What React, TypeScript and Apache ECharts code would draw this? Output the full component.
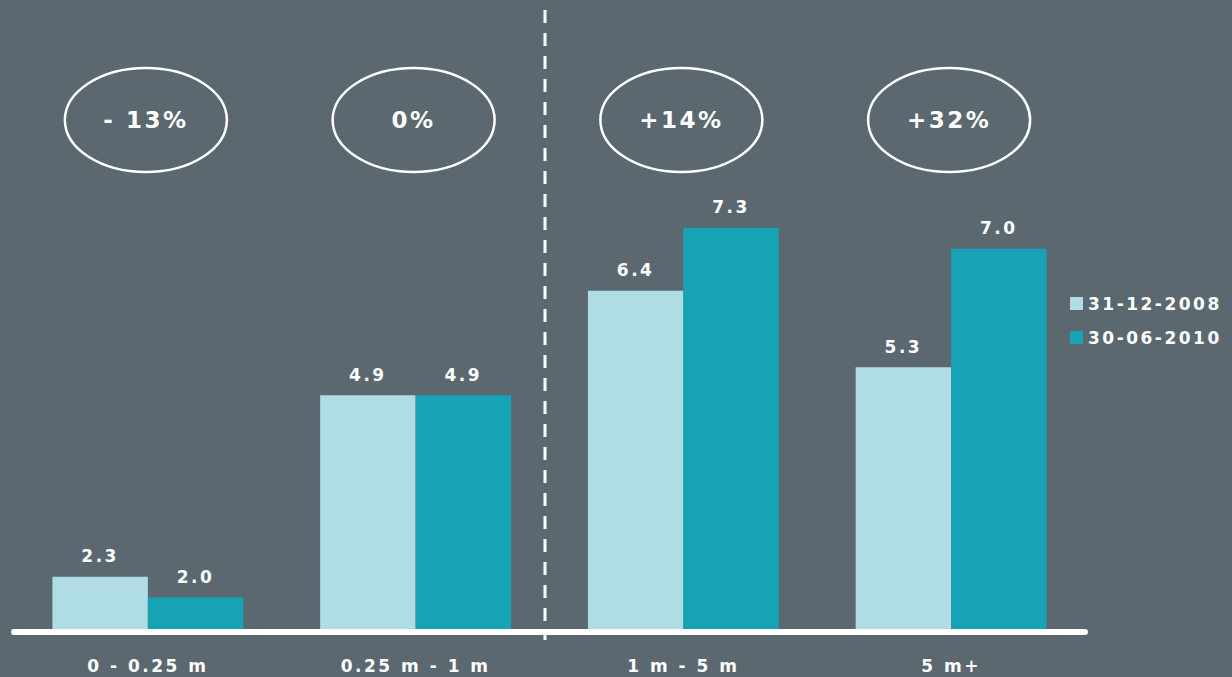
import React, { useEffect, useRef } from "react";
import * as echarts from "echarts";

const categories = ["0 - 0.25 m", "0.25 m - 1 m", "1 m - 5 m", "5 m+"];
const series2008 = [2.3, 4.9, 6.4, 5.3];
const series2010 = [2.0, 4.9, 7.3, 7.0];
const changeLabels = ["- 13%", "0%", "+14%", "+32%"];
const seriesNames = ["31-12-2008", "30-06-2010"];

const BG = "#5b6870";
const LIGHT = "#b0dce3";
const DARK = "#16a3b4";
const FONT = "DejaVu Sans";

export default function App() {
  const ref = useRef<HTMLDivElement>(null);
  useEffect(() => {
    document.body.style.margin = "0";
    const chart = echarts.init(ref.current!, null, { renderer: "svg" });
    const labelStyle = {
      show: true,
      position: "top",
      distance: 12,
      color: "#ffffff",
      fontFamily: FONT,
      fontWeight: "bold",
      fontSize: 17,
      formatter: (p: any) => Number(p.value).toFixed(1),
    };
    chart.setOption({
      animation: false,
      backgroundColor: BG,
      grid: { left: 14, right: 147, top: 179, bottom: 48 },
      legend: {
        orient: "vertical",
        left: 1070,
        top: 295,
        padding: 0,
        itemWidth: 13,
        itemHeight: 13,
        itemGap: 17,
        icon: "rect",
        textStyle: { color: "#ffffff", fontFamily: FONT, fontWeight: "bold", fontSize: 17 },
        data: seriesNames,
      },
      xAxis: {
        type: "category",
        data: categories,
        offset: 3,
        axisLine: { lineStyle: { color: "#ffffff", width: 6, cap: "round" } },
        axisTick: { show: false },
        axisLabel: {
          color: "#ffffff",
          fontFamily: FONT,
          fontWeight: "bold",
          fontSize: 17,
          margin: 25,
        },
      },
      yAxis: {
        type: "value",
        min: 1.55,
        max: 8,
        show: false,
        splitLine: { show: false },
      },
      series: [
        {
          name: seriesNames[0],
          type: "bar",
          data: series2008,
          barGap: "0%",
          barCategoryGap: "28.7%",
          itemStyle: { color: LIGHT },
          label: labelStyle,
        },
        {
          name: seriesNames[1],
          type: "bar",
          data: series2010,
          barGap: "0%",
          barCategoryGap: "28.7%",
          itemStyle: { color: DARK },
          label: labelStyle,
        },
      ],
    });
    const graphics: any[] = [
      {
        type: "line",
        shape: { x1: 545, y1: 10, x2: 545, y2: 640 },
        style: { stroke: "#ffffff", lineWidth: 3, lineDash: [13, 10] },
        z: 10,
      },
    ];
    categories.forEach((c, i) => {
      const x = chart.convertToPixel({ xAxisIndex: 0 }, c) as number;
      graphics.push({
        type: "ellipse",
        shape: { cx: x - 2, cy: 120, rx: 81, ry: 52 },
        style: { fill: "none", stroke: "#ffffff", lineWidth: 2.5 },
      });
      graphics.push({
        type: "text",
        x: x - 2,
        y: 120,
        style: {
          text: changeLabels[i],
          fill: "#ffffff",
          font: `bold 23px "${FONT}"`,
          align: "center",
          verticalAlign: "middle",
        },
      });
    });
    chart.setOption({ graphic: graphics });
    return () => chart.dispose();
  }, []);
  return (
    <div
      ref={ref}
      style={{
        position: "fixed",
        left: 0,
        top: 0,
        width: 1232,
        height: 677,
        letterSpacing: "2.5px",
      }}
    />
  );
}
